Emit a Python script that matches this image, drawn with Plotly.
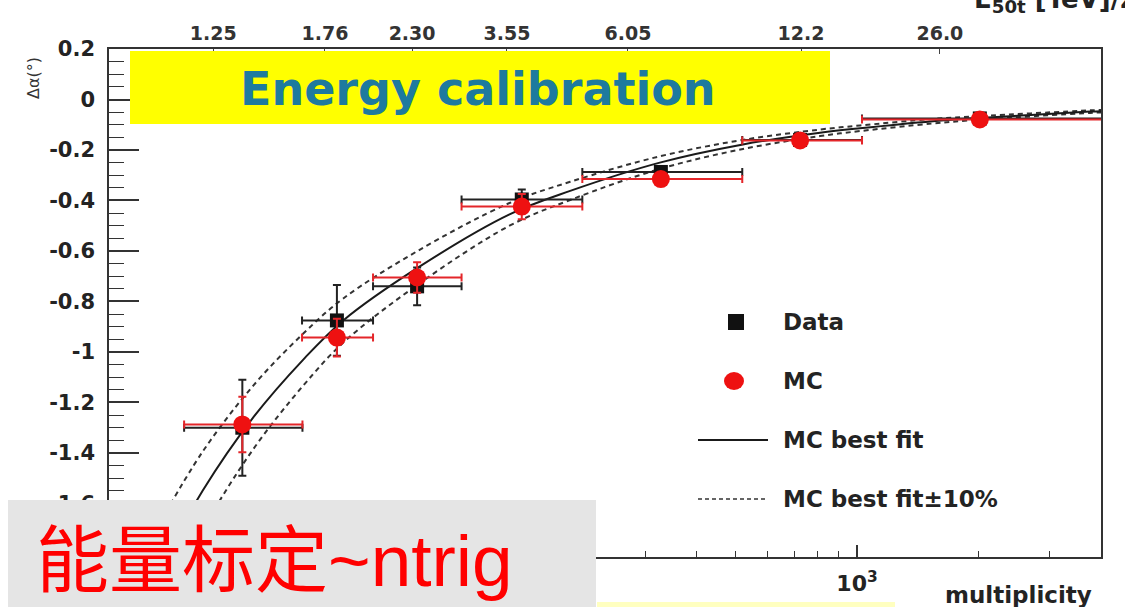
import plotly.graph_objects as go

# ---------------- data ----------------
multiplicity = [30.1, 51.6, 81.5, 148, 327, 723, 2014]
bin_low = [21.6, 42.3, 63.4, 105, 209, 520, 1029]
bin_high = [42.4, 63.4, 105, 209, 520, 1029, 4100]

data_dalpha = [-1.30, -0.875, -0.74, -0.396, -0.287, -0.160, -0.075]
data_err = [0.19, 0.14, 0.075, 0.04, 0.02, 0.02, 0.012]
mc_dalpha = [-1.287, -0.943, -0.705, -0.424, -0.315, -0.162, -0.079]
mc_err = [0.11, 0.075, 0.06, 0.05, 0.02, 0.02, 0.012]

fit_mult = [19, 24, 32, 42.6, 53.5, 81.5, 138, 195, 325, 522, 810, 1017, 1542, 2014, 3775, 4200]
fit_best = [-1.85, -1.55, -1.26, -1.03, -0.875, -0.668, -0.455, -0.362, -0.25, -0.178,
            -0.132, -0.114, -0.086, -0.073, -0.048, -0.045]
fit_upper = [-1.665, -1.395, -1.134, -0.927, -0.788, -0.601, -0.41, -0.326, -0.225, -0.160,
             -0.119, -0.103, -0.077, -0.066, -0.043, -0.040]
fit_lower = [-2.035, -1.705, -1.386, -1.133, -0.963, -0.735, -0.50, -0.398, -0.275, -0.196,
             -0.145, -0.125, -0.095, -0.080, -0.053, -0.050]

top_tick_mult = [25.5, 48.2, 79.2, 136, 271, 727, 1604]
top_tick_text = ["1.25", "1.76", "2.30", "3.55", "6.05", "12.2", "26.0"]

y_tickvals = [0.2, 0, -0.2, -0.4, -0.6, -0.8, -1, -1.2, -1.4, -1.6]
y_ticktext = ["0.2", "0", "-0.2", "-0.4", "-0.6", "-0.8", "-1", "-1.2", "-1.4", "-1.6"]

x_tickvals = [1000]
x_ticktext = ["10<sup>3</sup>"]
x_minor_vals = [20, 30, 40, 50, 60, 70, 80, 90, 100, 200, 300, 400, 500, 600, 700, 800, 900, 2000, 3000]

legend_labels = ["Data", "MC", "MC best fit", "MC best fit\u00b110%"]

# ---------------- helpers (pixel -> paper) ----------------
L, R, T, B = 109, 1101, 49, 557


def px(x):
    return (x - L) / (R - L)


def py(y):
    return (B - y) / (B - T)


BOLD = "DejaVu Sans"
ink = "#232323"

fig = go.Figure()

# fit curves
fig.add_trace(go.Scatter(x=fit_mult, y=fit_upper, mode="lines", line=dict(color="#333", width=2, dash="5px,4px", shape="spline"), hoverinfo="skip"))
fig.add_trace(go.Scatter(x=fit_mult, y=fit_lower, mode="lines", line=dict(color="#333", width=2, dash="5px,4px", shape="spline"), hoverinfo="skip"))
fig.add_trace(go.Scatter(x=fit_mult, y=fit_best, mode="lines", line=dict(color="#1a1a1a", width=2, shape="spline"), name="MC best fit"))

err_plus = [h - m for h, m in zip(bin_high, multiplicity)]
err_minus = [m - l for m, l in zip(multiplicity, bin_low)]

fig.add_trace(go.Scatter(
    x=multiplicity, y=data_dalpha, mode="markers", name="Data",
    marker=dict(symbol="square", size=14, color="#111"),
    error_x=dict(type="data", array=err_plus, arrayminus=err_minus, color="#222", thickness=2, width=4),
    error_y=dict(type="data", array=data_err, color="#222", thickness=2, width=4),
))
fig.add_trace(go.Scatter(
    x=multiplicity, y=mc_dalpha, mode="markers", name="MC",
    marker=dict(symbol="circle", size=18, color="#ee1111"),
    error_x=dict(type="data", array=err_plus, arrayminus=err_minus, color="#e4262a", thickness=2, width=4),
    error_y=dict(type="data", array=mc_err, color="#e4262a", thickness=2, width=4),
))
# invisible trace that carries the top (energy) axis
fig.add_trace(go.Scatter(x=top_tick_mult, y=[0.2] * len(top_tick_mult), xaxis="x2", mode="markers",
                         marker=dict(opacity=0), hoverinfo="skip"))

fig.update_layout(
    width=1125, height=607,
    margin=dict(l=L, r=1125 - R, t=T, b=607 - B),
    paper_bgcolor="white", plot_bgcolor="white",
    showlegend=False,
    xaxis=dict(
        type="log", range=[1.1485, 3.604],
        showline=True, linecolor="#333", linewidth=1.5, mirror=True,
        showgrid=False, zeroline=False,
        tickmode="array", tickvals=x_tickvals, ticktext=x_ticktext,
        ticks="inside", ticklen=12, tickwidth=1.5, tickcolor="#333",
        tickfont=dict(family=BOLD, size=22, color=ink, weight="bold"),
        ticklabelstandoff=6,
        minor=dict(tickmode="array", tickvals=x_minor_vals, ticks="inside", ticklen=6, tickwidth=1.3, tickcolor="#333"),
    ),
    xaxis2=dict(
        type="log", range=[1.1485, 3.604], overlaying="x", side="top", anchor="y",
        showline=False, showgrid=False, zeroline=False,
        tickmode="array", tickvals=top_tick_mult, ticktext=top_tick_text,
        ticks="inside", ticklen=5, tickwidth=1.3, tickcolor="#444",
        tickfont=dict(family=BOLD, size=19, color="#333", weight="bold"),
        ticklabelstandoff=4,
    ),
    yaxis=dict(
        range=[-1.812, 0.2],
        showline=True, linecolor="#333", linewidth=1.5, mirror=True,
        showgrid=False, zeroline=False,
        tickmode="array", tickvals=y_tickvals, ticktext=y_ticktext,
        ticks="inside", ticklen=30, tickwidth=1.5, tickcolor="#333",
        tickfont=dict(family=BOLD, size=21, color=ink, weight="bold"),
        ticklabelstandoff=8,
        minor=dict(dtick=0.05, tick0=0, ticks="inside", ticklen=15, tickwidth=1.3, tickcolor="#333"),
    ),
)

shapes = [
    # yellow title band
    dict(type="rect", xref="paper", yref="paper", x0=px(130), x1=px(830), y0=py(124), y1=py(51),
         fillcolor="#FFFF00", line=dict(width=0), layer="above"),
    # grey caption box
    dict(type="rect", xref="paper", yref="paper", x0=px(8), x1=px(596), y0=py(608), y1=py(500),
         fillcolor="#E5E5E5", line=dict(width=0), layer="above"),
    # pale yellow strip at bottom
    dict(type="rect", xref="paper", yref="paper", x0=px(597), x1=px(895), y0=py(608), y1=py(602),
         fillcolor="#FFFFC0", line=dict(width=0), layer="above"),
    # legend symbols
    dict(type="rect", xref="paper", yref="paper", x0=px(728), x1=px(744), y0=py(330), y1=py(314),
         fillcolor="#111", line=dict(width=0), layer="above"),
    dict(type="circle", xref="paper", yref="paper", x0=px(724), x1=px(744), y0=py(390), y1=py(372),
         fillcolor="#ee1111", line=dict(width=0), layer="above"),
    dict(type="line", xref="paper", yref="paper", x0=px(698), x1=px(768), y0=py(440), y1=py(440),
         line=dict(color="#1a1a1a", width=2), layer="above"),
    dict(type="line", xref="paper", yref="paper", x0=px(698), x1=px(768), y0=py(499), y1=py(499),
         line=dict(color="#333", width=1.5, dash="4px,3px"), layer="above"),
]

annotations = [
    dict(text="<b>Energy calibration</b>", x=px(478), y=py(89), xref="paper", yref="paper",
         showarrow=False, xanchor="center", yanchor="middle",
         font=dict(family=BOLD, size=46, color="#1E7A9E")),
    dict(text="\u0394\u03b1(\u00b0)", x=px(33), y=py(78), xref="paper", yref="paper",
         showarrow=False, textangle=-90, xanchor="center", yanchor="middle",
         font=dict(family="DejaVu Sans", size=16, color="#333")),
    dict(text="<b>multiplicity</b>", x=px(1094), y=py(595), xref="paper", yref="paper",
         showarrow=False, xanchor="right", yanchor="middle",
         font=dict(family=BOLD, size=23, color=ink)),
    dict(text="<b>E<sub>50t</sub> [TeV]/Z</b>", x=px(972), y=py(1), xref="paper", yref="paper",
         showarrow=False, xanchor="left", yanchor="middle",
         font=dict(family=BOLD, size=26, color=ink)),
    dict(text="能量标定~ntrig", x=px(34), y=py(560), xref="paper", yref="paper",
         showarrow=False, xanchor="left", yanchor="middle",
         font=dict(family="Liberation Sans, Noto Sans CJK SC", size=73, color="#FF0000")),
]
for lab, yy in zip(legend_labels, [322, 381, 440, 499]):
    annotations.append(dict(text="<b>" + lab + "</b>", x=px(781), y=py(yy), xref="paper", yref="paper",
                            showarrow=False, xanchor="left", yanchor="middle",
                            font=dict(family=BOLD, size=23, color=ink)))

fig.update_layout(shapes=shapes, annotations=annotations)

fig.write_html("out.html")
